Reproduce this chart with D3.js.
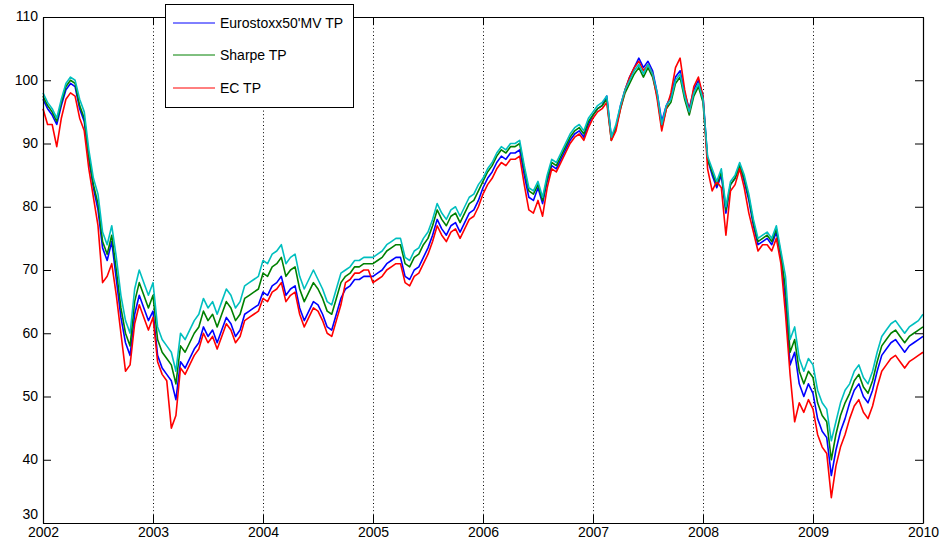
<!DOCTYPE html>
<html>
<head>
<meta charset="utf-8">
<script src="https://cdn.jsdelivr.net/npm/d3@7"></script>
<style>
  html, body { margin: 0; padding: 0; background: #fff; }
  svg { display: block; font-family: "Liberation Sans", Arial, sans-serif; }
</style>
</head>
<body>
<svg id="chart" width="941" height="544"></svg>
<script>
// ---- data (half-monthly readings, 2002.0 .. 2010.0) ----
const startYear = 2002;
const pointsPerYear = 24;
const yearTicks = [2002, 2003, 2004, 2005, 2006, 2007, 2008, 2009, 2010];
const valueTicks = [30, 40, 50, 60, 70, 80, 90, 100, 110];
const seriesNames = ["Eurostoxx50'MV TP", "Sharpe TP", "EC TP"];

const eurostoxxMV = [
  97, 95.5, 94.5, 93, 96, 98.5, 99.5, 99, 95.5, 93.5, 87.5, 83, 79.5, 73.5, 71.5, 74.5, 68.5, 62.5, 58.5, 56.5, 63, 66, 64, 62,
  63.5, 56.5, 54.5, 53.5, 52.5, 49.5, 55.5, 54.5, 56, 57.5, 58.5, 61, 59.5, 60.5, 58.5, 60.5, 62.5, 61.5, 59.5, 60.5, 63, 63.5, 64, 64.5,
  66.5, 66, 67.5, 68, 69, 66, 67, 67.5, 64, 62, 63.5, 65, 64.5, 63, 61, 60.5, 63, 65.5, 67, 67.5, 68.5, 68.5, 69, 69,
  69, 69.5, 70, 71, 71.5, 72, 72, 69, 68.5, 70, 70.5, 72, 73.5, 75.5, 78, 76.5, 75.5, 77, 77.5, 76, 77.5, 79, 79.5, 81,
  83, 84.5, 85.5, 87, 88, 87.5, 88.5, 88.5, 89, 85, 81.5, 81, 83, 80.5, 84, 86.5, 86, 87.5, 89, 90.5, 91.5, 92, 91, 93,
  94.5, 95.5, 96, 97.5, 91, 92.5, 96, 98.5, 100.5, 102, 103.5, 102, 103, 101.5, 98, 93.5, 96, 97.5, 100.5, 101.5, 98, 95.5, 98.5, 100,
  97.5, 87.5, 85, 83, 85, 79, 83.5, 84.5, 86.5, 84, 81, 77, 74, 74.5, 75, 74, 76, 72, 65, 55, 57, 52, 50, 52,
  50.5, 46.5, 44.5, 43.5, 37.5, 41.5, 44.5, 46.5, 49, 51, 52, 50, 49, 51, 54, 56.5, 57.5, 58.5, 59, 58, 57, 58, 58.5, 59,
  59.5
];

const sharpeTP = [
  97.5, 96, 95, 93.5, 96.5, 99, 100, 99.5, 96, 94, 88, 83.5, 80.5, 74.5, 72.5, 75.5, 70, 64, 60, 58, 65, 68, 66, 64,
  66, 59, 57, 56, 55, 52, 58, 57, 58.5, 60, 61, 63.5, 62, 63, 61, 63, 65, 64, 62, 63, 65.5, 66, 66.5, 67,
  69.5, 69, 70.5, 71, 72, 69, 70, 70.5, 67, 65, 66.5, 68, 67, 65.5, 63.5, 63, 65.5, 68, 69, 69.5, 70.5, 70.5, 71, 71,
  71, 71.5, 72, 73, 73.5, 74, 74, 71, 70.5, 72, 72.5, 74, 75, 77, 79.5, 78, 77, 78.5, 79, 77.5, 79, 80.5, 81, 82.5,
  84, 85.5, 86.5, 88, 89, 88.5, 89.5, 89.5, 90, 86, 82.5, 82, 83.5, 81, 84.5, 87, 86.5, 88, 89.5, 91, 92, 92.5, 91.5, 93.5,
  94.5, 95.5, 96, 97, 90.5, 92.5, 95.5, 98, 99.5, 101, 102, 100.5, 102, 100.5, 97.5, 92.5, 95.5, 96.5, 99.5, 100.5, 97, 94.5, 97.5, 99,
  96.5, 87.5, 85.5, 83.5, 85.5, 79.5, 83.5, 84.5, 86.5, 84.5, 81.5, 77.5, 74.5, 75, 75.5, 74.5, 76.5, 72.5, 67, 57, 59, 54, 52, 54,
  53, 49, 47, 46, 40, 44, 47, 49, 50.5, 52.5, 53.5, 51.5, 50.5, 52.5, 55.5, 58, 59, 60, 60.5, 59.5, 58.5, 59.5, 60, 60.5,
  61
];

const ecTP = [
  95.5, 93, 93, 89.5, 94, 97, 98, 97.5, 94, 92, 86, 81.5, 77, 68, 69, 71, 66, 60, 54, 55, 61.5, 64.5, 62.5, 60.5,
  62.5, 55.5, 53.5, 52.5, 45, 47, 54.5, 53.5, 55, 56.5, 57.5, 60, 58.5, 59.5, 57.5, 59.5, 61.5, 60.5, 58.5, 59.5, 62, 62.5, 63, 63.5,
  65.5, 65, 66.5, 67, 68, 65, 66, 66.5, 63, 61, 62.5, 64, 63.5, 62, 60, 59.5, 62, 64.5, 68, 68.5, 69.5, 69.5, 70, 70,
  68, 68.5, 69, 70, 70.5, 71, 71, 68, 67.5, 69, 69.5, 71, 72.5, 74.5, 77, 75.5, 74.5, 76, 76.5, 75, 76.5, 78, 78.5, 80,
  82, 83.5, 84.5, 86, 87, 86.5, 87.5, 87.5, 88, 83.5, 79.5, 79, 81, 78.5, 83, 86, 85.5, 87, 88.5, 90, 91, 91.5, 90.5, 92.5,
  94, 95, 95.5, 96.5, 90.5, 92, 95.5, 98.5, 100.5, 102, 103, 101.5, 102.5, 101, 97, 92, 95.5, 98, 102, 103.5, 98.5, 95, 99, 100.5,
  97.5, 86, 82.5, 84, 83, 75.5, 82.5, 83.5, 86, 83, 79, 76, 73, 74, 74, 73, 75, 71, 63, 53.5, 46, 49, 47.5, 49.5,
  48, 44, 42, 41, 34, 39, 42, 44, 46.5, 48.5, 49.5, 47.5, 46.5, 48.5, 51.5, 54, 55, 56, 56.5, 55.5, 54.5, 55.5, 56, 56.5,
  57
];

const fourthSeries = [
  98, 96.5, 95.5, 94, 97, 99.5, 100.5, 100, 97, 95, 89, 84.5, 82, 76, 74, 77, 72, 66, 62, 60, 67, 70, 68, 66,
  68, 61, 59, 58, 57, 54, 60, 59, 60.5, 62, 63, 65.5, 64, 65, 63, 65, 67, 66, 64, 65, 67.5, 68, 68.5, 69,
  71.5, 71, 72.5, 73, 74, 71, 72, 72.5, 69, 67, 68.5, 70, 68.5, 67, 65, 64.5, 67, 69.5, 70, 70.5, 71.5, 71.5, 72, 72,
  72, 72.5, 73, 74, 74.5, 75, 75, 72, 71.5, 73, 73.5, 75, 76, 78, 80.5, 79, 78, 79.5, 80, 78.5, 80, 81.5, 82, 83.5,
  84.5, 86, 87, 88.5, 89.5, 89, 90, 90, 90.5, 86.5, 83, 82.5, 84, 81.5, 85, 87.5, 87, 88.5, 90, 91.5, 92.5, 93, 92, 94,
  95, 96, 96.5, 97.5, 91, 93, 96, 98.5, 100, 101.5, 102.5, 101, 102.5, 101, 98, 93, 96, 97, 100, 101, 97.5, 95, 98, 99.5,
  97, 88, 86, 84, 86, 80, 84, 85, 87, 85, 82, 78, 75, 75.5, 76, 75, 77, 73, 69, 59, 61, 56, 54, 56,
  55, 51, 49, 48, 43, 46, 49, 51, 52, 54, 55, 53, 52, 54, 57, 59.5, 60.5, 61.5, 62, 61, 60, 61, 61.5, 62,
  63
];

// ---- drawing ----
const svg = d3.select("#chart");
const L = 43, R = 923, T = 17, B = 523;

const x = d3.scaleLinear().domain([2002, 2010]).range([L, R]);
const y = d3.scaleLinear().domain([30, 110]).range([B, T]);

// vertical dotted grid
svg.append("g").selectAll("line")
  .data(yearTicks.slice(1, -1))
  .join("line")
  .attr("x1", d => Math.round(x(d)) + 0.5).attr("x2", d => Math.round(x(d)) + 0.5)
  .attr("y1", T).attr("y2", B)
  .attr("stroke", "#000").attr("stroke-width", 1)
  .attr("stroke-dasharray", "1,2.6");

// series
const series = [
  { values: eurostoxxMV, color: "#0000ff" },
  { values: sharpeTP, color: "#008000" },
  { values: ecTP, color: "#ff0000" },
  { values: fourthSeries, color: "#00bfbf" }
];
const line = d3.line()
  .x((d, i) => x(startYear + i / pointsPerYear))
  .y(d => y(d));
svg.append("g").selectAll("path")
  .data(series)
  .join("path")
  .attr("d", d => line(d.values))
  .attr("fill", "none")
  .attr("stroke", d => d.color)
  .attr("stroke-width", 1.6)
  .attr("stroke-linejoin", "round");

// axes
const fmt = d3.format("d");
const gx = svg.append("g").attr("transform", `translate(0,${B})`)
  .call(d3.axisBottom(x).tickValues(yearTicks).tickFormat(fmt).tickSize(-8).tickSizeOuter(0).tickPadding(4));
const gxt = svg.append("g").attr("transform", `translate(0,${T})`)
  .call(d3.axisTop(x).tickValues(yearTicks).tickFormat("").tickSize(-8).tickSizeOuter(0));
const gy = svg.append("g").attr("transform", `translate(${L},0)`)
  .call(d3.axisLeft(y).tickValues(valueTicks).tickFormat(fmt).tickSize(-8).tickSizeOuter(0).tickPadding(5));
const gyr = svg.append("g").attr("transform", `translate(${R},0)`)
  .call(d3.axisRight(y).tickValues(valueTicks).tickFormat("").tickSize(-8).tickSizeOuter(0));

[gx, gxt, gy, gyr].forEach(g => {
  g.selectAll("path.domain").attr("stroke", "#000").attr("stroke-width", 1.2);
  g.selectAll(".tick line").attr("stroke", "#000").attr("stroke-width", 1);
  g.selectAll("text").attr("fill", "#000").attr("font-size", 14)
    .attr("font-family", "'Liberation Sans', Arial, sans-serif");
});
gy.selectAll(".tick text").attr("dy", d => d === 30 ? "-0.3em" : "0.28em");

// legend
const lg = svg.append("g");
lg.append("rect").attr("x", 165.5).attr("y", 4.5).attr("width", 188).attr("height", 103)
  .attr("fill", "#fff").attr("stroke", "#000").attr("stroke-width", 1);
const rowsY = [23, 55, 88];
seriesNames.forEach((name, i) => {
  lg.append("line").attr("x1", 173).attr("x2", 215).attr("y1", rowsY[i]).attr("y2", rowsY[i])
    .attr("stroke", series[i].color).attr("stroke-width", 1);
  lg.append("text").attr("x", 220).attr("y", rowsY[i]).attr("dy", "0.36em")
    .attr("font-size", 14).attr("fill", "#000").text(name);
});
</script>
</body>
</html>
